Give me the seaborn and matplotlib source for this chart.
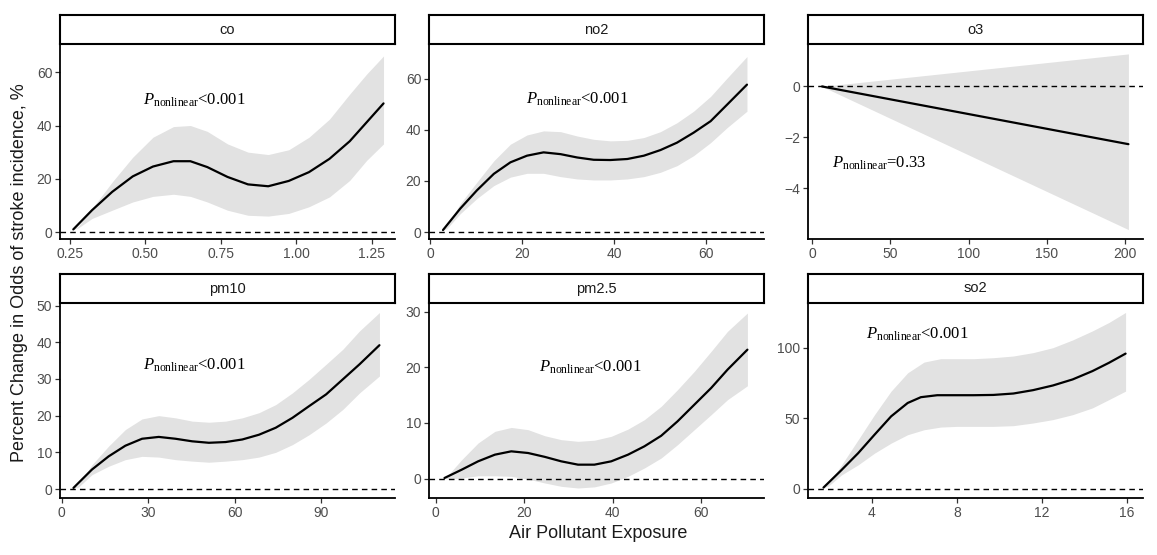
import matplotlib
matplotlib.use("Agg")
import pandas as pd
import seaborn as sns
from matplotlib import pyplot as plt

# ---- data ------------------------------------------------------------------
pollutants = ["co", "no2", "o3", "pm10", "pm2.5", "so2"]
p_labels = ["<0.001", "<0.001", "=0.33", "<0.001", "<0.001", "<0.001"]

co_x = [0.261, 0.323, 0.390, 0.458, 0.525, 0.593, 0.649, 0.705, 0.772, 0.840, 0.907, 0.975, 1.042, 1.110, 1.177, 1.233, 1.289]
co_y = [1.0, 8.2, 15.1, 20.9, 24.6, 26.6, 26.6, 24.4, 20.7, 17.9, 17.2, 19.2, 22.5, 27.5, 34.1, 41.2, 48.3]
co_band_x = [0.261, 0.278, 0.323, 0.390, 0.458, 0.525, 0.593, 0.649, 0.705, 0.772, 0.840, 0.907, 0.975, 1.042, 1.110, 1.177, 1.233, 1.289]
co_upper = [1.0, 2.2, 8.8, 18.8, 28.1, 35.6, 39.6, 40.0, 37.8, 33.1, 30.0, 29.1, 30.9, 35.6, 42.4, 51.8, 59.3, 66.1]
co_lower = [1.0, 1.6, 5.1, 8.2, 11.3, 13.4, 14.2, 13.4, 11.3, 8.2, 6.3, 6.0, 7.0, 9.5, 13.2, 19.4, 26.9, 33.1]

no2_x = [2.75, 6.5, 10.1, 13.8, 17.4, 21.0, 24.6, 28.3, 31.9, 35.5, 39.1, 42.8, 46.4, 50.0, 53.6, 57.2, 60.9, 64.5, 68.8]
no2_y = [0.8, 9.2, 16.3, 22.8, 27.3, 29.9, 31.2, 30.5, 29.2, 28.3, 28.2, 28.6, 29.9, 32.1, 35.0, 38.9, 43.4, 49.9, 57.7]
no2_band_x = [2.75, 3.6, 6.5, 10.1, 13.8, 17.4, 21.0, 24.6, 28.3, 31.9, 35.5, 39.1, 42.8, 46.4, 50.0, 53.6, 57.2, 60.9, 64.5, 68.8]
no2_upper = [0.8, 2.3, 11.1, 19.5, 27.9, 34.4, 38.0, 39.6, 39.3, 37.6, 36.3, 35.7, 35.9, 37.0, 39.3, 42.8, 47.3, 53.1, 60.3, 68.7]
no2_lower = [0.8, 1.4, 7.2, 13.1, 18.2, 21.5, 23.0, 23.0, 21.7, 20.8, 20.4, 20.4, 20.8, 21.7, 23.4, 26.0, 29.9, 35.0, 40.9, 47.3]

o3_x = [6.4, 202.0]
o3_y = [0.0, -2.27]
o3_band_x = [6.4, 202.0]
o3_upper = [0.0, 1.28]
o3_lower = [0.0, -5.63]

pm10_x = [4.1, 10.5, 16.3, 22.1, 27.9, 33.7, 39.5, 45.3, 51.1, 56.9, 62.7, 68.5, 74.3, 80.1, 85.9, 91.8, 97.6, 103.4, 110.3]
pm10_y = [0.3, 5.3, 8.9, 11.8, 13.7, 14.2, 13.7, 13.0, 12.6, 12.8, 13.5, 14.8, 16.7, 19.4, 22.6, 25.8, 29.9, 34.0, 39.2]
pm10_band_x = [4.1, 5.8, 10.5, 16.3, 22.1, 27.9, 33.7, 39.5, 45.3, 51.1, 56.9, 62.7, 68.5, 74.3, 80.1, 85.9, 91.8, 97.6, 103.4, 110.3]
pm10_upper = [0.3, 1.2, 6.6, 11.7, 16.2, 19.1, 20.0, 19.4, 18.5, 18.2, 18.5, 19.4, 20.8, 23.0, 26.2, 29.9, 34.0, 38.1, 43.1, 48.1]
pm10_lower = [0.3, 0.5, 3.9, 6.2, 8.0, 8.9, 8.7, 8.0, 7.6, 7.3, 7.6, 8.0, 8.7, 10.0, 12.1, 14.8, 18.0, 21.7, 26.2, 30.8]

pm25_x = [2.0, 5.9, 9.6, 13.4, 17.1, 20.9, 24.7, 28.4, 32.2, 35.9, 39.7, 43.5, 47.2, 51.0, 54.7, 58.5, 62.3, 66.0, 70.5]
pm25_y = [0.1, 1.6, 3.1, 4.3, 4.9, 4.6, 3.9, 3.1, 2.5, 2.5, 3.1, 4.3, 5.8, 7.7, 10.3, 13.3, 16.3, 19.6, 23.2]
pm25_band_x = [2.0, 2.9, 5.9, 9.6, 13.4, 17.1, 20.9, 24.7, 28.4, 32.2, 35.9, 39.7, 43.5, 47.2, 51.0, 54.7, 58.5, 62.3, 66.0, 70.5]
pm25_upper = [0.1, 0.7, 3.4, 6.4, 8.5, 9.2, 8.8, 7.7, 7.0, 6.7, 6.9, 7.6, 8.9, 10.6, 13.0, 16.0, 19.3, 22.9, 26.5, 29.8]
pm25_lower = [0.1, -0.1, 0.1, 0.5, 0.5, 0.4, -0.1, -0.8, -1.4, -1.7, -1.5, -0.8, 0.4, 1.9, 3.7, 6.1, 8.8, 11.5, 14.2, 16.7]

so2_x = [1.72, 2.57, 3.35, 4.12, 4.90, 5.68, 6.30, 7.07, 8.0, 8.78, 9.71, 10.65, 11.58, 12.51, 13.44, 14.37, 15.15, 15.93]
so2_y = [1.0, 13.5, 25.4, 38.5, 51.5, 61.0, 65.1, 66.5, 66.5, 66.5, 66.7, 67.7, 70.1, 73.4, 77.7, 83.6, 89.5, 96.0]
so2_band_x = [1.72, 1.95, 2.57, 3.35, 4.12, 4.90, 5.68, 6.45, 7.23, 8.0, 8.78, 9.71, 10.65, 11.58, 12.51, 13.44, 14.37, 15.15, 15.93]
so2_upper = [1.0, 4.0, 17.1, 34.9, 52.7, 69.4, 82.4, 90.0, 92.4, 92.4, 92.4, 93.1, 94.3, 96.7, 100.2, 105.7, 112.1, 118.1, 125.2]
so2_lower = [1.0, 2.1, 10.0, 17.1, 25.4, 32.5, 38.5, 42.0, 43.9, 44.4, 44.4, 44.4, 44.9, 46.8, 49.2, 52.7, 57.5, 63.4, 69.4]

co_xticks = [0.25, 0.50, 0.75, 1.00, 1.25]
co_xticklabels = ["0.25", "0.50", "0.75", "1.00", "1.25"]
no2_xticks = [0, 20, 40, 60]
o3_xticks = [0, 50, 100, 150, 200]
pm10_xticks = [0, 30, 60, 90]
pm25_xticks = [0, 20, 40, 60]
so2_xticks = [4, 8, 12, 16]
co_yticks = [0, 20, 40, 60]
no2_yticks = [0, 20, 40, 60]
o3_yticks = [-4, -2, 0]
pm10_yticks = [0, 10, 20, 30, 40, 50]
pm25_yticks = [0, 10, 20, 30]
so2_yticks = [0, 50, 100]

curves = pd.concat([
    pd.DataFrame({"pollutant": name, "x": x, "y": y})
    for name, x, y in zip(pollutants,
                          [co_x, no2_x, o3_x, pm10_x, pm25_x, so2_x],
                          [co_y, no2_y, o3_y, pm10_y, pm25_y, so2_y])
])
bands = pd.concat([
    pd.DataFrame({"pollutant": name, "x": x, "upper": u, "lower": l})
    for name, x, u, l in zip(pollutants,
                             [co_band_x, no2_band_x, o3_band_x, pm10_band_x, pm25_band_x, so2_band_x],
                             [co_upper, no2_upper, o3_upper, pm10_upper, pm25_upper, so2_upper],
                             [co_lower, no2_lower, o3_lower, pm10_lower, pm25_lower, so2_lower])
])

xticks = [co_xticks, no2_xticks, o3_xticks, pm10_xticks, pm25_xticks, so2_xticks]
xticklabels = [co_xticklabels, None, None, None, None, None]
yticks = [co_yticks, no2_yticks, o3_yticks, pm10_yticks, pm25_yticks, so2_yticks]

# ---- layout (panel limits and annotation spots) ------------------------------
xlims = [(0.217, 1.327), (-0.29, 72.5), (-2.55, 211.3), (-0.58, 115.7), (-1.5, 74.25), (0.99, 16.75)]
ylims = [(-2.6, 70.6), (-2.7, 73.6), (-6.0, 1.67), (-2.45, 50.7), (-3.5, 31.6), (-6.4, 131.9)]
text_pos = [(0.493, 49.4), (20.7, 51.8), (12.8, -3.02), (28.3, 33.6), (23.4, 20.1), (3.73, 109.5)]

W, H = 1157, 555
lefts = [60, 429, 808]
panel_w = 335
rows_top = [44, 303]
panel_h = 195
strip_h = 29

sns.set_style("ticks")
plt.rcParams["font.family"] = ["Liberation Sans", "DejaVu Sans"]
plt.rcParams["mathtext.fontset"] = "custom"
plt.rcParams["mathtext.it"] = "Liberation Serif:italic"
plt.rcParams["mathtext.rm"] = "Liberation Serif"

band_color = "#e2e2e2"
fig = plt.figure(figsize=(W / 100, H / 100), dpi=100)

for i, name in enumerate(pollutants):
    r, c = divmod(i, 3)
    left = lefts[c] / W
    bottom = 1 - (rows_top[r] + panel_h) / H
    ax = fig.add_axes([left, bottom, panel_w / W, panel_h / H])

    b = bands[bands["pollutant"] == name]
    ax.fill_between(b["x"], b["lower"], b["upper"], color=band_color, lw=0, zorder=1)
    sns.lineplot(data=curves[curves["pollutant"] == name], x="x", y="y", ax=ax,
                 color="black", lw=1.6, zorder=3)
    ax.axhline(0, color="black", lw=1.0, linestyle=(0, (4, 3)), zorder=2)

    ax.set_xlim(*xlims[i])
    ax.set_ylim(*ylims[i])
    ax.set_xticks(xticks[i])
    if xticklabels[i] is not None:
        ax.set_xticklabels(xticklabels[i])
    ax.set_yticks(yticks[i])
    ax.set_xlabel(None)
    ax.set_ylabel(None)
    sns.despine(ax=ax)
    for s in ["left", "bottom"]:
        ax.spines[s].set_linewidth(1.3)
        ax.spines[s].set_color("black")
    ax.tick_params(colors="#333333", labelcolor="#4d4d4d", labelsize=10, length=3.5, width=0.9, pad=2)

    tx, ty = text_pos[i]
    ax.text(tx, ty, r"$\mathit{P}_{\mathrm{nonlinear}}$" + p_labels[i], fontsize=12,
            family="Liberation Serif", va="center", ha="left", color="black", zorder=4)

    strip = fig.add_axes([left, 1 - rows_top[r] / H, panel_w / W, strip_h / H])
    strip.set_xticks([])
    strip.set_yticks([])
    for s in strip.spines.values():
        s.set_linewidth(1.5)
        s.set_color("black")
    strip.text(0.5, 0.5, name, ha="center", va="center", fontsize=10.5, color="#1a1a1a",
               transform=strip.transAxes)

fig.text(20 / W, 1 - 273 / H, "Percent Change in Odds of stroke incidence, %", rotation=90,
         ha="center", va="center", fontsize=13, color="#1a1a1a")
fig.text(598 / W, 1 - 533 / H, "Air Pollutant Exposure", ha="center", va="center",
         fontsize=13, color="#1a1a1a")

fig.savefig("out.png", dpi=100)
